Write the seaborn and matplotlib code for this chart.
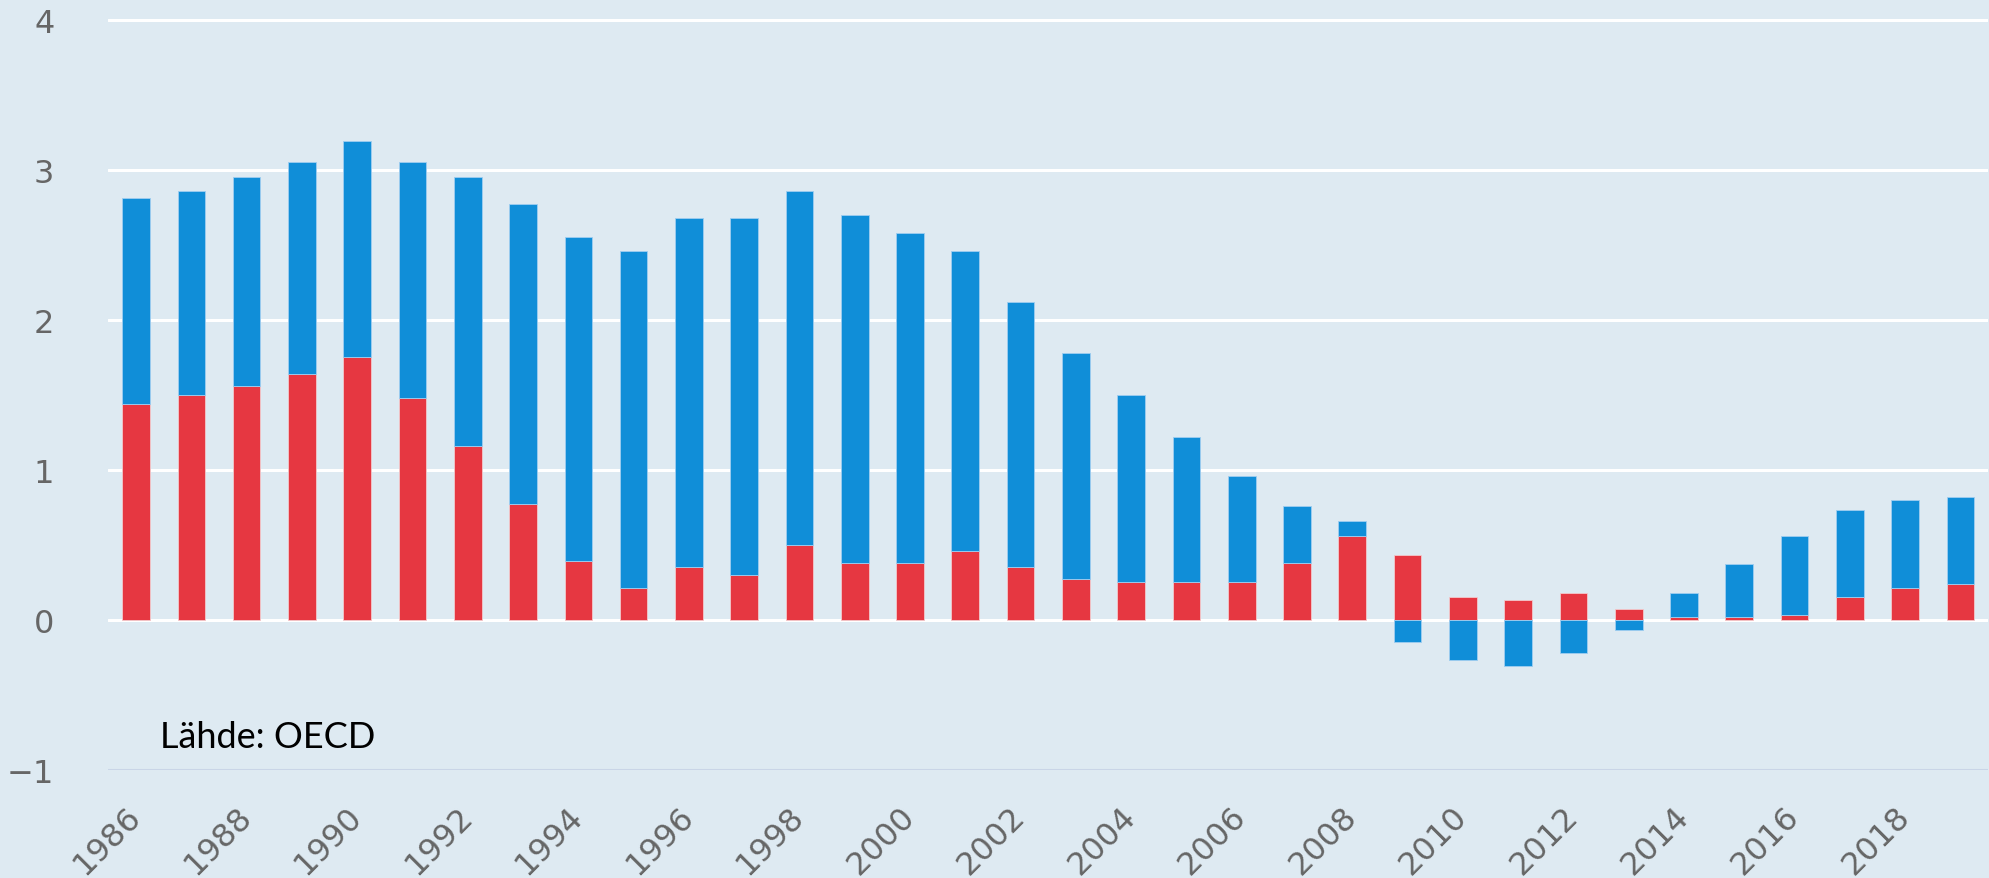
import numpy as np
import pandas as pd
import seaborn as sns
import matplotlib.pyplot as plt

years = list(range(1986, 2020))

# punainen osa (alin pino)
red_vals = [1.44, 1.50, 1.56, 1.64, 1.75, 1.48, 1.16, 0.77, 0.39, 0.21,
            0.35, 0.30, 0.50, 0.38, 0.38, 0.46, 0.35, 0.27, 0.25, 0.25,
            0.25, 0.38, 0.56, 0.43, 0.15, 0.13, 0.18, 0.07, 0.02, 0.02,
            0.03, 0.15, 0.21, 0.24]

# sininen osa (pinotaan punaisen päälle, negatiiviset nollasta alas)
blue_vals = [1.37, 1.36, 1.39, 1.41, 1.44, 1.57, 1.79, 2.00, 2.16, 2.25,
             2.33, 2.38, 2.36, 2.32, 2.20, 2.00, 1.77, 1.51, 1.25, 0.97,
             0.71, 0.38, 0.10, -0.15, -0.27, -0.31, -0.22, -0.07, 0.16, 0.35,
             0.53, 0.58, 0.59, 0.58]

year_ticks = list(range(1986, 2019, 2))
y_ticks = [-1, 0, 1, 2, 3, 4]

RED = '#e63741'
BLUE = '#108ed8'
BG = '#deeaf2'

df = pd.DataFrame({'year': years, 'red': red_vals, 'blue': blue_vals})
# sininen alkaa punaisen päältä jos positiivinen, muuten nollasta
df['blue_bottom'] = np.where(df['blue'] >= 0, df['red'], 0)

sns.set_theme(style='white')
plt.rcParams['font.family'] = ['DejaVu Sans']

fig = plt.figure(figsize=(19.9, 8.79), dpi=100, facecolor=BG)
ax = fig.add_axes([0.0545, 0.1232, 0.9445, 0.8567])
ax.set_facecolor(BG)

for y in [0, 1, 2, 3, 4]:
    ax.axhline(y, color='white', lw=2.2, zorder=0)
ax.axhline(-1, color='#c9d5e7', lw=2.2, zorder=0)

sns.barplot(data=df, x='year', y='red', native_scale=True, color=RED,
            saturation=1, width=0.5, errorbar=None, ax=ax,
            edgecolor='#f2c9cc', linewidth=0.6, zorder=2)
sns.barplot(data=df, x='year', y='blue', bottom=df['blue_bottom'].values,
            native_scale=True, color=BLUE, saturation=1, width=0.5,
            errorbar=None, ax=ax, edgecolor='#9fcdf0', linewidth=0.6, zorder=2)

ax.set_xlim(1985.5, 2019.5)
ax.set_ylim(-1, 4.02)
ax.set_xticks(year_ticks)
ax.set_xticklabels([str(y) for y in year_ticks], rotation=45, ha='right',
                   va='center', rotation_mode='anchor')
ax.set_yticks(y_ticks)
ax.tick_params(axis='both', length=0, labelsize=23, labelcolor='#666666')
ax.tick_params(axis='y', pad=39)
ax.tick_params(axis='x', pad=30)
ax.set_xlabel('')
ax.set_ylabel('')
sns.despine(ax=ax, left=True, bottom=True)

fig.text(0.0805, 0.149, 'Lähde: OECD', fontsize=26, color='black',
         family=['Lato', 'DejaVu Sans'], ha='left', va='baseline')

plt.savefig('out.png', dpi=100, facecolor=BG)
